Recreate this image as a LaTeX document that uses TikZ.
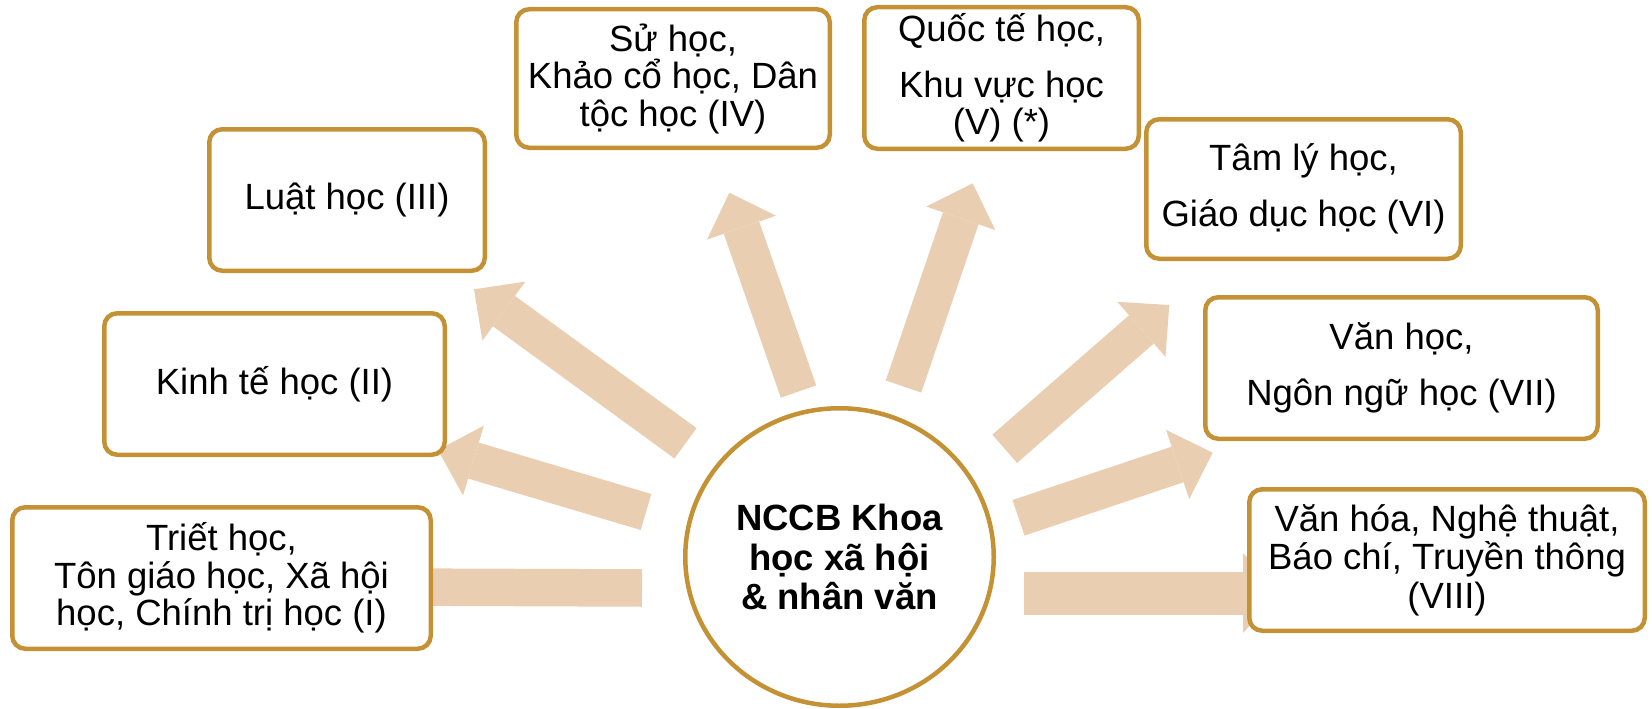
\documentclass[tikz,border=0pt]{standalone}
\usepackage{fontspec}
\setmainfont{Liberation Sans}
\usetikzlibrary{arrows.meta,shapes.geometric,backgrounds}
\definecolor{gold}{RGB}{196,146,53}
\definecolor{peach}{RGB}{234,206,177}
\begin{document}
\begin{tikzpicture}[x=1pt,y=-1pt,
  box/.style={draw=gold, line width=4.5pt, rounded corners=13pt, fill=white,
    inner sep=0pt, align=center, font=\fontsize{36.5}{37.5}\selectfont},
  hub/.style={ellipse, draw=gold, line width=4.5pt, fill=white, inner sep=0pt,
    align=center, font=\fontsize{36.5}{39.5}\selectfont\bfseries},
  arr/.style={draw=peach, line width=37.5pt,
    -{Triangle[length=37pt,width=73pt,line width=0pt]}},
  warr/.style={draw=peach, line width=43pt,
    -{Triangle[length=37pt,width=80pt,line width=0pt]}}
]
\useasboundingbox (0,0) rectangle (1652,709);

% hub
\node[hub, minimum width=308.5pt, minimum height=297.5pt] (c) at (839.5,557)
  {NCCB Khoa\\ học xã hội\\ \& nhân văn};

% boxes
\node[box, minimum width=418.5pt, minimum height=141.5pt] (b1) at (221.5,578)
  {Triết học,\\ Tôn giáo học, Xã hội\\ học, Chính trị học (I)};
\node[box, minimum width=340.5pt, minimum height=141.5pt] (b2) at (274.5,384)
  {Kinh tế học (II)};
\node[box, minimum width=275.5pt, minimum height=141.5pt] (b3) at (347,200)
  {Luật học (III)};
\node[box, minimum width=313.5pt, minimum height=138.5pt] (b4) at (673,78.5)
  {Sử học,\\ Khảo cổ học, Dân\\ tộc học (IV)};
\node[box, minimum width=274.5pt, minimum height=141.5pt] (b5) at (1001.5,78)
  {Quốc tế học,\\[18pt] Khu vực học\\ (V) (*)};
\node[box, minimum width=314.5pt, minimum height=139.5pt] (b6) at (1303.5,189)
  {Tâm lý học,\\[18pt] Giáo dục học (VI)};
\node[box, minimum width=392.5pt, minimum height=141.5pt] (b7) at (1401.5,368)
  {Văn học,\\[18pt] Ngôn ngữ học (VII)};
\node[box, minimum width=395.5pt, minimum height=141.5pt] (b8) at (1447,560)
  {Văn hóa, Nghệ thuật,\\[1pt] Báo chí, Truyền thông\\[1pt] (VIII)};

% arrow ends
\coordinate (t1) at (642,588);    \coordinate (h1) at (390,587);
\coordinate (t2) at (646,512);    \coordinate (h2) at (438,450);
\coordinate (t3) at (685.5,443.3);\coordinate (h3) at (474,289.3);
\coordinate (t4) at (798.5,391.5);\coordinate (h4) at (729.3,192.7);
\coordinate (t5) at (903.5,386.5);\coordinate (h5) at (972.7,183.3);
\coordinate (t6) at (1004.7,448.8);\coordinate (h6) at (1169.3,305);
\coordinate (t7) at (1018.5,517.8);\coordinate (h7) at (1212.7,452.7);
\coordinate (t8) at (1024,593);   \coordinate (h8) at (1280,593);

\begin{pgfonlayer}{background}
  \draw[arr] (t1) -- (h1);
  \draw[arr] (t2) -- (h2);
  \draw[arr] (t3) -- (h3);
  \draw[arr] (t4) -- (h4);
  \draw[arr] (t5) -- (h5);
  \draw[arr] (t6) -- (h6);
  \draw[arr] (t7) -- (h7);
  \draw[warr] (t8) -- (h8);
\end{pgfonlayer}
\end{tikzpicture}
\end{document}
